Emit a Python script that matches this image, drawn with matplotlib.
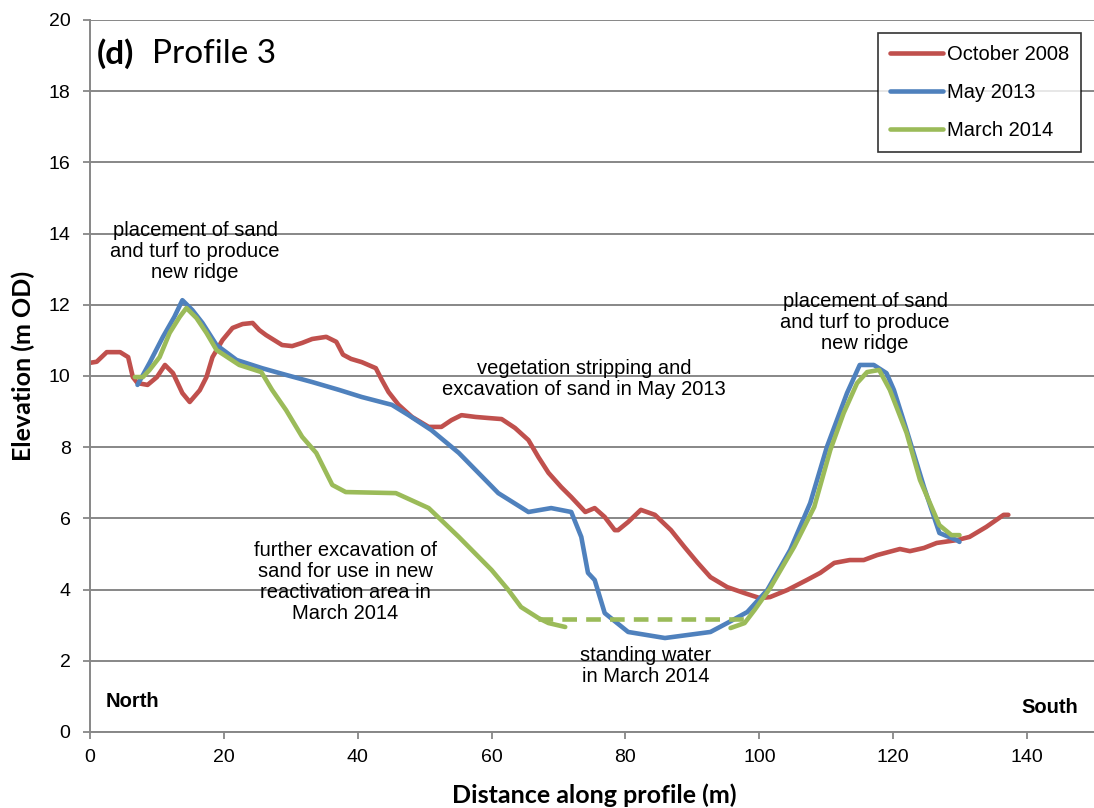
import matplotlib.pyplot as plt

# October 2008 survey
oct08_x = [0, 1.0, 2.5, 4.5, 5.7, 6.4, 7.1, 8.6, 10.0, 11.2, 12.4, 13.8, 14.9, 16.4, 17.4,
           18.3, 19.8, 21.3, 22.8, 24.3, 25.3, 26.3, 28.7, 30.2, 31.7, 33.2, 35.3, 36.8,
           37.8, 39.0, 40.6, 42.7, 43.6, 44.6, 46.1, 48.1, 50.6, 52.5, 54.0, 55.5, 57.6,
           59.5, 61.5, 63.5, 65.5, 67.0, 68.5, 70.4, 71.9, 74.0, 75.4, 76.9, 78.4, 78.9,
           80.4, 82.3, 84.4, 86.8, 88.8, 90.8, 92.7, 95.2, 97.8, 100.1, 101.6, 104.2,
           107.1, 109.1, 111.2, 113.5, 115.6, 117.6, 121.0, 122.5, 124.6, 126.5, 129.5,
           131.4, 133.9, 136.5, 137.2]
oct08_y = [10.37, 10.4, 10.67, 10.67, 10.53, 9.97, 9.8, 9.75, 9.97, 10.31, 10.08, 9.52,
           9.27, 9.6, 9.97, 10.53, 11.01, 11.35, 11.46, 11.49, 11.29, 11.15, 10.87, 10.84,
           10.93, 11.04, 11.1, 10.96, 10.6, 10.48, 10.39, 10.22, 9.89, 9.55, 9.19, 8.85,
           8.57, 8.57, 8.76, 8.9, 8.85, 8.82, 8.79, 8.54, 8.2, 7.72, 7.28, 6.88, 6.6, 6.18,
           6.29, 6.04, 5.67, 5.67, 5.9, 6.24, 6.1, 5.67, 5.2, 4.75, 4.35, 4.07, 3.9, 3.76,
           3.79, 3.99, 4.27, 4.47, 4.75, 4.83, 4.83, 4.97, 5.14, 5.08, 5.17, 5.31, 5.39,
           5.48, 5.76, 6.1, 6.1]

# May 2013 survey
may13_x = [7.1, 8.9, 10.9, 12.6, 13.8, 15.3, 16.8, 18.9, 21.9, 25.7, 29.3, 33.2, 37.2,
           40.6, 45.1, 47.6, 51.0, 55.1, 61.0, 65.5, 68.9, 71.9, 73.4, 74.4, 75.4, 76.9,
           80.4, 85.9, 92.7, 95.2, 98.2, 101.2, 104.6, 107.6, 110.1, 113.1, 115.0, 117.1,
           119.0, 120.1, 122.0, 124.6, 126.9, 129.5, 129.9]
may13_y = [9.75, 10.37, 11.1, 11.66, 12.13, 11.85, 11.49, 10.87, 10.45, 10.22, 10.03,
           9.83, 9.61, 9.41, 9.19, 8.9, 8.48, 7.84, 6.71, 6.18, 6.29, 6.18, 5.48, 4.47,
           4.27, 3.34, 2.81, 2.64, 2.81, 3.06, 3.37, 3.99, 5.11, 6.43, 8.01, 9.52, 10.31,
           10.31, 10.08, 9.61, 8.48, 6.88, 5.59, 5.39, 5.34]

# March 2014 survey, north part
mar14a_x = [6.7, 7.9, 8.9, 10.4, 11.9, 13.4, 14.4, 15.9, 17.4, 18.9, 22.3, 25.6, 27.2,
            29.3, 31.7, 33.8, 36.2, 38.2, 45.7, 50.6, 55.1, 60.0, 62.5, 64.4, 67.0, 68.5,
            71.0]
mar14a_y = [9.97, 9.97, 10.17, 10.53, 11.21, 11.66, 11.91, 11.63, 11.21, 10.73, 10.31,
            10.11, 9.61, 9.04, 8.29, 7.84, 6.94, 6.74, 6.71, 6.29, 5.48, 4.55, 3.99, 3.51,
            3.2, 3.06, 2.95]
# March 2014 survey, south part
mar14b_x = [95.7, 97.8, 99.3, 101.6, 105.2, 108.2, 110.6, 112.6, 114.6, 116.1, 117.9,
            119.5, 122.0, 124.0, 126.9, 128.7, 129.9]
mar14b_y = [2.92, 3.06, 3.43, 4.04, 5.2, 6.32, 7.92, 8.96, 9.8, 10.11, 10.17, 9.61, 8.4,
            7.08, 5.81, 5.53, 5.53]
# standing water level
water_x = [67.0, 98.5]
water_y = [3.17, 3.17]

red = '#C0504D'
blue = '#4F81BD'
green = '#9BBB59'
grid_c = '#878787'

plt.rcParams['font.family'] = ['Liberation Sans', 'DejaVu Sans']
calibri = ['Lato', 'DejaVu Sans']  # stand-in for Calibri

fig = plt.figure(figsize=(10.94, 8.08), dpi=100)
ax = fig.add_axes([90 / 1094, 76 / 808, 1004 / 1094, 712 / 808])

lw = 3.3
ax.plot(oct08_x, oct08_y, color=red, lw=lw, label='October 2008', solid_capstyle='round')
ax.plot(may13_x, may13_y, color=blue, lw=lw, label='May 2013', solid_capstyle='round')
ax.plot(mar14a_x, mar14a_y, color=green, lw=lw, label='March 2014', solid_capstyle='round')
ax.plot(mar14b_x, mar14b_y, color=green, lw=lw, solid_capstyle='round')
ax.plot(water_x, water_y, color=green, lw=lw, ls=(0, (3.2, 2.0)))

ax.set_xlim(0, 150)
ax.set_ylim(0, 20)
ax.set_xticks(range(0, 141, 20))
ax.set_yticks(range(0, 21, 2))
ax.yaxis.grid(True, color=grid_c, lw=1.4)
ax.set_axisbelow(True)
ax.tick_params(labelsize=14, length=5, color=grid_c, width=1.3)
ax.tick_params(axis='y', pad=9)
ax.tick_params(axis='x', pad=7)
for s in ['left', 'bottom']:
    ax.spines[s].set_color(grid_c)
    ax.spines[s].set_linewidth(1.4)
for s in ['top', 'right']:
    ax.spines[s].set_visible(False)

ax.set_xlabel('Distance along profile (m)', fontsize=18, fontweight='bold', family=calibri,
              va='center')
ax.set_ylabel('Elevation (m OD)', fontsize=18, fontweight='bold', family=calibri, va='center')
ax.xaxis.set_label_coords(0.502, -0.0885)
ax.yaxis.set_label_coords(-0.0667, 0.514)

ax.text(1.0, 19.05, '(d)', fontsize=24, fontweight='bold', family=calibri, va='center')
ax.text(9.2, 19.05, 'Profile 3', fontsize=24, family=calibri, va='center')

note = dict(fontsize=14.5, ha='center', va='center', linespacing=1.15)
ax.text(15.7, 13.5, 'placement of sand\nand turf to produce\nnew ridge', **note)
ax.text(115.8, 11.5, 'placement of sand\nand turf to produce\nnew ridge', **note)
ax.text(73.8, 9.92, 'vegetation stripping and\nexcavation of sand in May 2013', **note)
ax.text(38.1, 4.21, 'further excavation of\nsand for use in new\nreactivation area in\nMarch 2014',
        **note)
ax.text(83.0, 1.85, 'standing water\nin March 2014', **note)
ax.text(2.3, 0.87, 'North', fontsize=14.5, fontweight='bold', va='center', ha='left')
ax.text(147.6, 0.7, 'South', fontsize=14.5, fontweight='bold', va='center', ha='right')

leg = ax.legend(loc='upper right', bbox_to_anchor=(991 / 1004, 699 / 712), borderaxespad=0,
                fontsize=14.5, frameon=True, fancybox=False, edgecolor='black',
                handlelength=2.6, handletextpad=0.2, labelspacing=0.95, borderpad=0.6)
leg.get_frame().set_linewidth(1.2)

fig.savefig('out.png', dpi=100)
